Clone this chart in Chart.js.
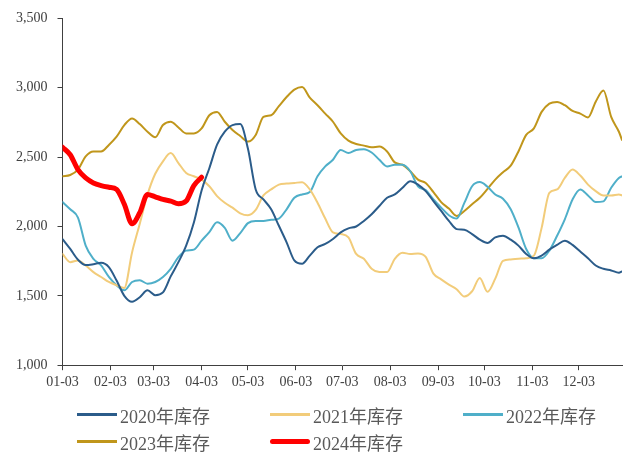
<!DOCTYPE html>
<html>
<head>
<meta charset="utf-8">
<script src="https://cdn.jsdelivr.net/npm/chart.js@4.4.1/dist/chart.umd.min.js"></script>
<style>
  html, body { margin: 0; padding: 0; background: #ffffff; }
  #wrap { position: relative; width: 629px; height: 453px; }
  #legend {
    position: absolute; left: 77px; top: 405px;
    display: grid; grid-template-columns: 193px 193px 193px; row-gap: 8px;
    font-family: "Liberation Serif", "Noto Sans CJK SC", serif; font-size: 18px; color: #595959;
  }
  .item { display: flex; align-items: center; height: 19px; white-space: nowrap; }
  .swatch { display: inline-block; width: 40px; margin-right: 3px; }
</style>
</head>
<body>
<div id="wrap">
  <canvas id="c" width="629" height="453"></canvas>
  <div id="legend"></div>
</div>
<script>
// Dates (every 5 days from 01-03)
const dates = ['01-03','01-08','01-13','01-18','01-23','01-28','02-02','02-07','02-12','02-17','02-22','02-27',
  '03-04','03-09','03-14','03-19','03-24','03-29','04-03','04-08','04-13','04-18','04-23','04-28',
  '05-03','05-08','05-13','05-18','05-23','05-28','06-02','06-07','06-12','06-17','06-22','06-27',
  '07-02','07-07','07-12','07-17','07-22','07-27','08-01','08-06','08-11','08-16','08-21','08-26',
  '08-31','09-05','09-10','09-15','09-20','09-25','09-30','10-05','10-10','10-15','10-20','10-25',
  '10-30','11-04','11-09','11-14','11-19','11-24','11-29','12-04','12-09','12-14','12-19','12-24',
  '12-29','12-31'];

const xTickLabels = ['01-03','02-03','03-03','04-03','05-03','06-03','07-03','08-03','09-03','10-03','11-03','12-03'];
const axisStart = '01-03';
const axisEnd = '12-31';

const seriesNames = ['2020年库存','2021年库存','2022年库存','2023年库存','2024年库存'];
const seriesColors = ['#2B5C8A','#F2CC7A','#4FAFC9','#C0961B','#FF0000'];

const s2020 = [1909,1838,1760,1722,1728,1738,1707,1610,1500,1457,1490,1540,
  1505,1525,1640,1743,1862,2029,2260,2420,2590,2683,2731,2738,
  2560,2267,2195,2124,2005,1886,1755,1731,1790,1850,1874,1910,
  1957,1986,2000,2040,2088,2148,2207,2231,2279,2326,2302,2255,
  2183,2112,2040,1981,1976,1945,1905,1881,1921,1933,1905,1862,
  1802,1771,1790,1833,1867,1898,1867,1819,1771,1719,1695,1683,
  1667,1676];
const s2021 = [1802,1743,1755,1719,1671,1636,1600,1576,1557,1813,2020,2230,
  2380,2470,2529,2457,2386,2362,2338,2290,2219,2171,2136,2095,
  2081,2119,2224,2267,2302,2310,2314,2319,2267,2171,2057,1957,
  1945,1921,1802,1767,1695,1671,1671,1767,1810,1802,1806,1781,
  1660,1619,1581,1548,1495,1533,1629,1529,1624,1752,1762,1767,
  1771,1790,1990,2243,2267,2350,2410,2367,2302,2255,2224,2224,
  2231,2224];
const s2022 = [2176,2124,2064,1862,1767,1719,1636,1576,1540,1600,1612,1588,
  1600,1636,1695,1779,1826,1833,1898,1960,2030,1990,1898,1952,
  2024,2040,2040,2048,2057,2124,2207,2231,2248,2362,2433,2481,
  2552,2529,2552,2557,2533,2481,2433,2445,2445,2398,2290,2262,
  2195,2136,2081,2057,2170,2290,2320,2286,2231,2200,2124,1993,
  1838,1771,1771,1826,1933,2052,2195,2267,2224,2176,2181,2279,
  2350,2362];
const s2023 = [2362,2371,2410,2505,2541,2541,2588,2648,2731,2779,2738,2683,
  2643,2731,2755,2714,2671,2671,2707,2802,2826,2755,2695,2652,
  2612,2660,2790,2802,2867,2933,2986,3005,2929,2874,2814,2755,
  2671,2619,2595,2583,2571,2576,2541,2462,2445,2398,2338,2314,
  2248,2176,2129,2076,2112,2160,2207,2271,2338,2391,2438,2541,
  2660,2707,2826,2886,2898,2874,2833,2814,2786,2900,2980,2790,
  2683,2624];
const s2024 = [2571,2517,2410,2350,2314,2295,2283,2267,2160,2020,2100,2231,
  2214,2195,2183,2164,2183,2295,2355];

function dayOf(md) {
  const [m, d] = md.split('-').map(Number);
  const t0 = Date.UTC(2023, 0, 3);
  return Math.round((Date.UTC(2023, m - 1, d) - t0) / 86400000);
}

const xs = dates.map(dayOf);
const tickDays = xTickLabels.map(dayOf);
const allSeries = [s2020, s2021, s2022, s2023, s2024];

const datasets = allSeries.map((vals, i) => ({
  label: seriesNames[i],
  data: vals.map((v, j) => ({ x: xs[j], y: v })),
  borderColor: seriesColors[i],
  backgroundColor: seriesColors[i],
  borderWidth: i === 4 ? 5 : 2,
  pointRadius: 0,
  cubicInterpolationMode: 'monotone',
  borderCapStyle: 'round',
  borderJoinStyle: 'round',
  order: i === 4 ? 0 : 1
}));

const axisColor = '#404040';
const tickFont = { family: '"Liberation Serif", serif', size: 14 };

const chart = new Chart(document.getElementById('c'), {
  type: 'line',
  data: { datasets },
  options: {
    responsive: false,
    animation: false,
    layout: { padding: { left: 6, right: 7, top: 7, bottom: 58 } },
    plugins: { legend: { display: false }, tooltip: { enabled: false } },
    scales: {
      x: {
        type: 'linear',
        min: dayOf(axisStart),
        max: dayOf(axisEnd),
        afterBuildTicks: (scale) => { scale.ticks = tickDays.map(v => ({ value: v })); },
        ticks: {
          autoSkip: false, maxRotation: 0, minRotation: 0, padding: 4,
          color: axisColor, font: tickFont,
          callback: (value, index) => xTickLabels[index]
        },
        grid: { display: true, drawOnChartArea: false, drawTicks: true, tickLength: 5, color: axisColor, lineWidth: 1 },
        border: { display: true, color: axisColor, width: 1 }
      },
      y: {
        min: 1000, max: 3500,
        ticks: {
          stepSize: 500, padding: 10, color: axisColor, font: tickFont,
          callback: (v) => v.toLocaleString('en-US')
        },
        grid: { display: true, drawOnChartArea: false, drawTicks: true, tickLength: 5, color: axisColor, lineWidth: 1 },
        border: { display: true, color: axisColor, width: 1 }
      }
    }
  }
});

// HTML legend built from the chart's datasets
const legend = document.getElementById('legend');
chart.data.datasets.forEach((ds) => {
  const item = document.createElement('div');
  item.className = 'item';
  const sw = document.createElement('span');
  sw.className = 'swatch';
  sw.style.height = (ds.borderWidth >= 4 ? 5 : 2.5) + 'px';
  sw.style.borderRadius = ds.borderWidth >= 4 ? '3px' : '0';
  sw.style.background = ds.borderColor;
  const tx = document.createElement('span');
  tx.textContent = ds.label;
  item.appendChild(sw);
  item.appendChild(tx);
  legend.appendChild(item);
});
</script>
</body>
</html>
